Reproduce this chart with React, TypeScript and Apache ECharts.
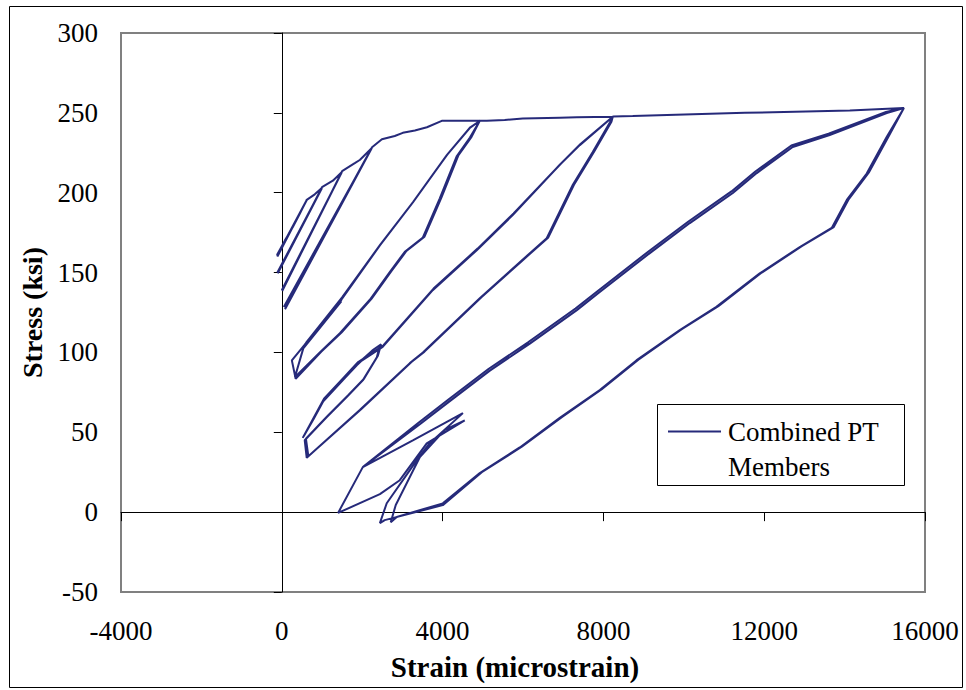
import React, { useEffect, useRef } from 'react';
import * as echarts from 'echarts';

type Pt = [number, number];

const X_MIN = -4000;
const X_MAX = 16000;
const X_STEP = 4000;
const Y_MIN = -50;
const Y_MAX = 300;
const Y_STEP = 50;

const SERIES_NAME = 'Combined PT Members';
const LEGEND_LINES = ['Combined PT', 'Members'];
const X_TITLE = 'Strain (microstrain)';
const Y_TITLE = 'Stress (ksi)';

// strain (microstrain), stress (ksi), in test order
const initialLoading: Pt[] = [[-120, 161], [75, 170], [275, 178.5], [450, 187], [620, 195.5]];
const cycle1: Pt[] = [[-110, 160], [625, 195.5], [-120, 160.5], [620, 195.5]];
const envelopeA: Pt[] = [[820, 199], [995, 203]];
const cycle2: Pt[] = [[-110, 150], [1000, 203], [-100, 149.5], [1000, 203.5]];
const envelopeB: Pt[] = [[1270, 207.5], [1495, 213]];
const cycle3: Pt[] = [[0, 139], [1495, 213], [10, 138.5], [1500, 213.5]];
const envelopeC: Pt[] = [[1815, 218.5], [1940, 220.5], [2240, 228]];
const cycle4: Pt[] = [[50, 128.5], [2240, 228], [80, 127], [1200, 180], [90, 130], [1300, 185], [70, 128.5], [2245, 228.5]];
const envelopeD: Pt[] = [[2490, 233.5], [2810, 235.5], [3010, 237.5], [3310, 239], [3610, 241], [3980, 245], [4775, 245], [4925, 245]];
const unload5a: Pt[] = [[4680, 234.5], [4355, 223], [3930, 196.5], [3510, 172], [3060, 163], [2690, 150.5], [2190, 133], [1445, 112], [945, 100], [325, 84.5]];
const reload5a: Pt[] = [[540, 103], [1490, 134], [520, 102], [1480, 132], [560, 104.5], [1495, 133.5], [2440, 167], [3260, 194], [4105, 223.5], [4675, 240.5], [4925, 245]];
const unload5b: Pt[] = [[4720, 235], [4395, 223.5], [3970, 197], [3550, 172.5], [3100, 163.5], [2730, 151], [2230, 133.5], [1485, 112.5], [985, 100.5], [345, 83.5]];
const reload5b: Pt[] = [[250, 95], [1490, 133], [600, 106], [1500, 134.5], [2450, 167.5], [3275, 194.5], [4120, 224], [4690, 241], [4930, 245]];
const envelopeE: Pt[] = [[5100, 245], [5545, 245.5], [5995, 246.5], [6915, 247], [7340, 247.2], [8234, 247.5]];
const unload6a: Pt[] = [[8160, 244], [7735, 225.5], [7240, 205], [6590, 171.5], [5920, 156.5], [4925, 134], [3510, 100], [3185, 93.3], [1940, 64], [620, 34]];
const loop6a: Pt[] = [[570, 45], [870, 53], [1120, 59.5], [1615, 72], [2015, 82.5], [2365, 97], [2440, 104.5], [2265, 101.5], [1865, 92], [1515, 82.5], [1020, 69], [770, 57.5], [520, 46.5]];
const reload6a: Pt[] = [[780, 58.5], [1030, 70], [1525, 83.5], [1875, 93], [2510, 103.5], [3755, 139], [4850, 164], [5745, 186], [6915, 217.5], [7413, 229.8], [8234, 247.5]];
const unload6b: Pt[] = [[8200, 244.5], [7775, 226], [7280, 205.5], [6630, 172], [5960, 157], [4965, 134.5], [3550, 100.5], [3225, 94], [1980, 64.5], [660, 35]];
const loop6b: Pt[] = [[600, 46], [900, 54], [1150, 60.5], [1645, 73], [2045, 83.5], [2390, 98], [2470, 105], [2290, 102], [1890, 93], [1540, 83.5], [1045, 70], [795, 58.5], [545, 47.5]];
const reload6b: Pt[] = [[800, 59.5], [1050, 71], [1550, 84.5], [1900, 94], [2530, 104.5], [3775, 140], [4870, 165], [5765, 187], [6935, 218], [7430, 230.5], [8240, 247.7]];
const envelopeF: Pt[] = [[8730, 248], [11520, 250], [14130, 251.5], [15475, 253]];
const unload7a: Pt[] = [[15050, 235], [14550, 212], [14055, 195.5], [13680, 178], [12885, 166], [11890, 149.5], [10810, 128.5], [9900, 114], [8820, 95], [7910, 76.5], [6915, 59], [5920, 40.5], [4925, 24.5], [4005, 5.5], [2860, -3], [2710, -6.3]];
const smallLoop7a: Pt[] = [[2835, 4.5], [3435, 34.5], [4055, 51.5], [4550, 57.5], [3605, 43], [2935, 20], [2440, 11.3], [1400, -0.5], [2015, 28.2]];
const reload7a: Pt[] = [[3435, 55], [4180, 69.5], [5175, 88.6], [6170, 105.5], [7340, 126.5], [7910, 137.8], [9155, 162.2], [10150, 181], [11220, 199.8], [11815, 212.3], [12710, 228.6], [13630, 236.1], [15050, 249.9], [15475, 253]];
const unload7b: Pt[] = [[15100, 235.5], [14600, 212.5], [14105, 196], [13730, 178.5], [12935, 166.5], [11940, 150], [10860, 129], [9950, 114.5], [8870, 95.5], [7960, 77], [6965, 59.5], [5970, 41], [4975, 25], [4005, 4.4], [2560, -5], [2440, -6.9]];
const smallLoop7b: Pt[] = [[2610, 5.6], [3360, 32.6], [3680, 43.2], [4505, 62], [3260, 45], [2015, 28.2]];
const reload7b: Pt[] = [[3400, 56], [4145, 70.5], [5140, 89.6], [6135, 106.5], [7305, 127.5], [7875, 138.8], [9120, 163.2], [10115, 182], [11185, 200.8], [11780, 213.3], [12675, 229.6], [13600, 237], [15030, 250.5], [15475, 253]];

const segments: Pt[][] = [
  initialLoading, cycle1, envelopeA, cycle2, envelopeB, cycle3, envelopeC, cycle4, envelopeD,
  unload5a, reload5a, unload5b, reload5b, envelopeE,
  unload6a, loop6a, reload6a, unload6b, loop6b, reload6b, envelopeF,
  unload7a, smallLoop7a, reload7a, unload7b, smallLoop7b, reload7b,
];

const FONT = '"Liberation Serif", "Times New Roman", serif';
const LINE_COLOR = '#262a7a';

export default function App() {
  const ref = useRef<HTMLDivElement>(null);

  useEffect(() => {
    if (!ref.current) return;
    const chart = echarts.init(ref.current, null, { renderer: 'svg' });
    const data: Pt[] = [];
    segments.forEach((s) => s.forEach((p) => data.push(p)));

    const plain = (v: number) => String(v);

    const baseX = {
      type: 'value' as const,
      min: X_MIN,
      max: X_MAX,
      interval: X_STEP,
      position: 'bottom' as const,
      splitLine: { show: false },
    };
    const baseY = {
      type: 'value' as const,
      min: Y_MIN,
      max: Y_MAX,
      interval: Y_STEP,
      position: 'left' as const,
      splitLine: { show: false },
    };

    chart.setOption({
      animation: false,
      backgroundColor: '#ffffff',
      grid: {
        left: 121,
        top: 33,
        right: 41,
        bottom: 98,
        show: true,
        borderColor: '#808080',
        borderWidth: 2,
        backgroundColor: 'transparent',
      },
      xAxis: [
        {
          ...baseX,
          axisLine: { show: false, onZero: false },
          axisTick: { show: false },
          axisLabel: { fontFamily: FONT, fontSize: 27, color: '#000', margin: 25, formatter: plain },
          name: X_TITLE,
          nameLocation: 'middle',
          nameGap: 60,
          nameTextStyle: {
            fontFamily: FONT,
            fontSize: 29,
            fontWeight: 'bold',
            color: '#000',
            padding: [0, 16, 0, 0],
          },
        },
        {
          ...baseX,
          axisLine: { show: true, onZero: true, onZeroAxisIndex: 0, lineStyle: { color: '#000', width: 1 } },
          axisTick: { show: true, inside: false, length: 9, lineStyle: { color: '#000', width: 1 } },
          axisLabel: { show: false },
        },
      ],
      yAxis: [
        {
          ...baseY,
          axisLine: { show: false, onZero: false },
          axisTick: { show: false },
          axisLabel: { fontFamily: FONT, fontSize: 27, color: '#000', margin: 23, formatter: plain },
          name: Y_TITLE,
          nameLocation: 'middle',
          nameGap: 68,
          nameTextStyle: { fontFamily: FONT, fontSize: 28, fontWeight: 'bold', color: '#000' },
        },
        {
          ...baseY,
          axisLine: { show: true, onZero: true, onZeroAxisIndex: 0, lineStyle: { color: '#000', width: 1 } },
          axisTick: { show: true, inside: false, length: 8, lineStyle: { color: '#000', width: 1 } },
          axisLabel: { show: false },
        },
      ],
      legend: {
        show: true,
        left: 668,
        top: 379,
        padding: 0,
        itemWidth: 53,
        itemHeight: 2,
        itemGap: 0,
        icon: 'rect',
        formatter: () => '\n' + LEGEND_LINES.join('\n'),
        textStyle: {
          fontFamily: FONT,
          fontSize: 27,
          lineHeight: 35,
          color: '#000',
          padding: [0, 0, 0, 2],
        },
        data: [SERIES_NAME],
      },
      graphic: [
        {
          type: 'rect',
          z: 0,
          silent: true,
          shape: { x: 9.5, y: 6.5, width: 953, height: 681 },
          style: { fill: 'none', stroke: '#000', lineWidth: 1 },
        },
        {
          type: 'rect',
          z: 1,
          silent: true,
          shape: { x: 657.5, y: 404.5, width: 247, height: 81 },
          style: { fill: '#fff', stroke: '#000', lineWidth: 1 },
        },
      ],
      series: [
        {
          name: SERIES_NAME,
          type: 'line',
          xAxisIndex: 0,
          yAxisIndex: 0,
          data,
          showSymbol: false,
          symbol: 'none',
          smooth: false,
          z: 3,
          lineStyle: { color: LINE_COLOR, width: 2 },
          itemStyle: { color: LINE_COLOR },
        },
      ],
    });

    return () => chart.dispose();
  }, []);

  return (
    <div
      ref={ref}
      style={{ position: 'fixed', left: 0, top: 0, width: 966, height: 690, background: '#fff' }}
    />
  );
}
